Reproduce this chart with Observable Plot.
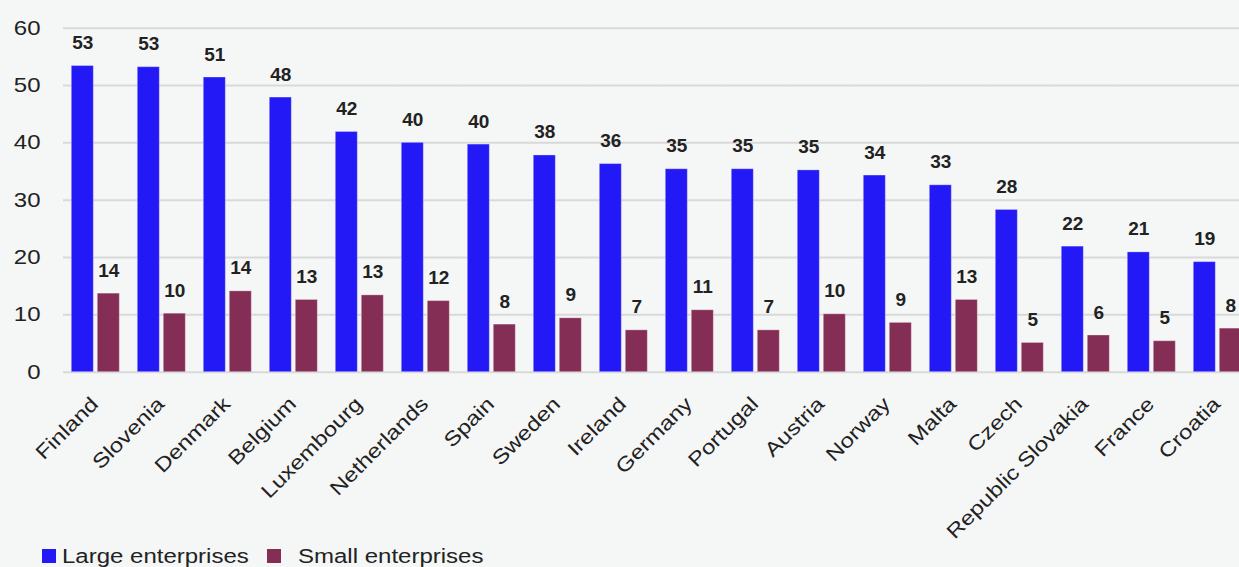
<!DOCTYPE html>
<html><head><meta charset="utf-8">
<script src="https://cdn.jsdelivr.net/npm/d3@7"></script>
<script src="https://cdn.jsdelivr.net/npm/@observablehq/plot@0.6"></script>
<style>
html,body{margin:0;padding:0;background:#f5f6f6;overflow:hidden;width:1239px;height:567px;}
#chart{position:absolute;left:0;top:0;}
#chart svg{max-width:none !important;}
.legend{font-family:"Liberation Sans",Arial,sans-serif;font-size:20px;color:#222}
.sw{position:absolute;width:14px;height:14px;top:548.5px}
.lt{position:absolute;top:545.6px;line-height:20px;white-space:nowrap;transform:scaleX(1.2);transform-origin:0 0}
</style>
</head><body>
<div id="chart"></div>
<div class="legend" id="legend"></div>
<script>
const countries = ["Finland","Slovenia","Denmark","Belgium","Luxembourg","Netherlands","Spain","Sweden","Ireland","Germany","Portugal","Austria","Norway","Malta","Czech","Republic Slovakia","France","Croatia"];
const largeValues = [53.4,53.2,51.4,47.9,41.9,40.0,39.7,37.8,36.3,35.4,35.4,35.2,34.3,32.6,28.3,21.9,20.9,19.2];
const smallValues = [13.7,10.2,14.1,12.6,13.4,12.4,8.3,9.4,7.3,10.8,7.3,10.1,8.6,12.6,5.1,6.4,5.4,7.6];
const seriesNames = ["Large enterprises","Small enterprises"];
const seriesColors = ["#2219f6","#842d55"];
const yTicks = [0,10,20,30,40,50,60];

const rows = countries.flatMap((c, i) => [
  {country: c, series: seriesNames[0], value: largeValues[i]},
  {country: c, series: seriesNames[1], value: smallValues[i]}
]);

const W = 1251, H = 525;
const chart = Plot.plot({
  width: W, height: H,
  marginLeft: 62.7, marginRight: 0.3, marginTop: 27.7, marginBottom: H - 371.7,
  style: {background: "transparent", fontFamily: "'Liberation Sans', Arial, sans-serif", fontSize: "20px", color: "#222", overflow: "visible", maxWidth: "none"},
  fx: {domain: countries, padding: 0, axis: null, label: null},
  x: {domain: seriesNames, axis: null, paddingInner: 0.136, paddingOuter: 0.316},
  y: {domain: [0, 60], ticks: yTicks, label: null, tickSize: 0, tickPadding: 23},
  color: {domain: seriesNames, range: seriesColors},
  marks: [
    Plot.ruleY(yTicks, {stroke: "#d9d9d9", strokeWidth: 2}),
    Plot.barY(rows, {fx: "country", x: "series", y: "value", fill: "series", stroke: "#ffffff", strokeOpacity: 0.3, strokeWidth: 1}),
    Plot.text(rows, {fx: "country", x: "series", y: "value", text: d => String(Math.round(d.value)), dy: -17, lineAnchor: "bottom", fontWeight: "bold", fontSize: 19, fill: "#222"}),
    Plot.text(countries, {fx: d => d, text: d => d, frameAnchor: "bottom", rotate: -45, textAnchor: "end", lineAnchor: "bottom", dx: 3, dy: 33, fontSize: 20, fill: "#222"})
  ]
});
document.getElementById("chart").appendChild(chart);

// widen the regular (non-bold) text horizontally, as in the reference typeface
d3.select(chart).selectAll("text").each(function() {
  if (this.closest('[font-weight="bold"]')) return;
  const xa = this.getAttribute("x");
  const x = xa && /^-?[\d.]+$/.test(xa) ? +xa : 0;
  const t = this.getAttribute("transform") || "";
  this.setAttribute("transform", `${t} translate(${x},0) scale(1.2,1) translate(${-x},0)`);
});

const legend = document.getElementById("legend");
const swLeft = [42, 267], txtLeft = [62, 298];
seriesNames.forEach((name, i) => {
  const sw = document.createElement("div");
  sw.className = "sw"; sw.style.left = swLeft[i] + "px"; sw.style.background = seriesColors[i];
  const t = document.createElement("div");
  t.className = "lt"; t.style.left = txtLeft[i] + "px"; t.textContent = name;
  legend.appendChild(sw); legend.appendChild(t);
});
</script>
</body></html>
